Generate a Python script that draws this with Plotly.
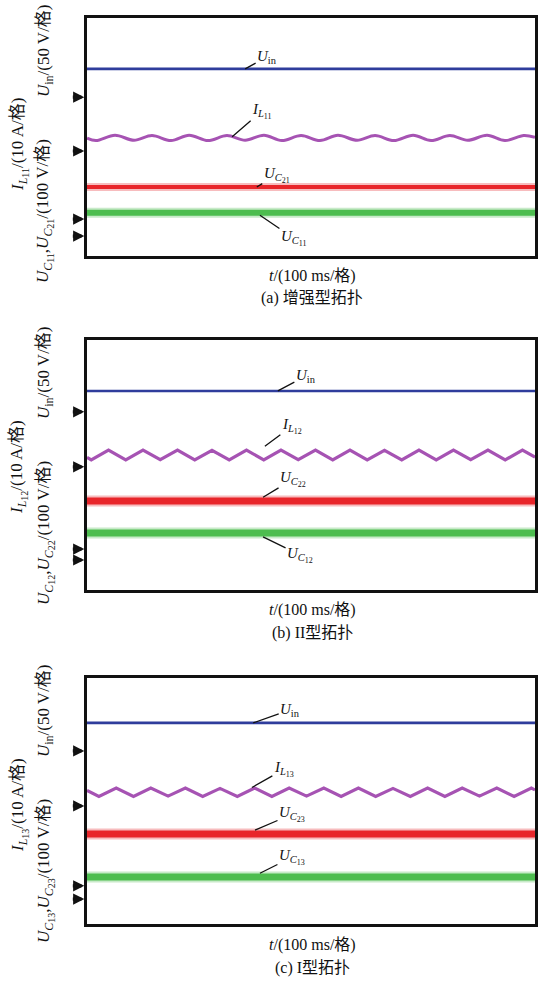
import plotly.graph_objects as go

# ---------------- data (vertical unit: screen divisions, horizontal: time divisions of 100 ms) -------------
t_flat = [0, 10]

# panel (a) 增强型拓扑
uin_a = 6.29
uc2_a = 2.32
uc1_a = 1.45
t_il_a = [0.0, 0.20, 0.625, 1.05, 1.45, 1.875, 2.28, 2.70, 3.125, 3.53, 3.95, 4.35, 4.78,
          5.20, 5.60, 6.03, 6.43, 6.85, 7.28, 7.68, 8.10, 8.50, 8.93, 9.33, 9.75, 10.0]
il_a = [3.96, 3.88, 4.06, 3.89, 4.05, 3.88, 4.06, 3.88, 4.05, 3.89, 4.06, 3.88, 4.05,
        3.88, 4.06, 3.89, 4.05, 3.88, 4.06, 3.88, 4.05, 3.89, 4.06, 3.88, 4.05, 3.99]
ref_a = [5.34, 3.53, 1.24, 0.67]

# panel (b) II型拓扑
uin_b = 6.37
uc2_b = 2.85
uc1_b = 1.82
t_il_b = [0.0, 0.095, 0.48, 0.865, 1.25, 1.635, 2.02, 2.405, 2.79, 3.175, 3.56, 3.945, 4.33, 4.715,
          5.10, 5.485, 5.87, 6.255, 6.64, 7.025, 7.41, 7.795, 8.18, 8.565, 8.95, 9.335, 9.72, 10.0]
il_b = [4.24, 4.16, 4.48, 4.16, 4.48, 4.17, 4.48, 4.16, 4.47, 4.16, 4.48, 4.16, 4.48, 4.17,
        4.48, 4.16, 4.48, 4.16, 4.47, 4.16, 4.48, 4.16, 4.48, 4.17, 4.48, 4.16, 4.48, 4.25]
ref_b = [5.70, 3.94, 1.31, 0.96]

# panel (c) I型拓扑
uin_c = 6.54
uc2_c = 2.93
uc1_c = 1.53
t_il_c = [0.0, 0.266, 0.652, 1.038, 1.424, 1.810, 2.196, 2.583, 2.969, 3.355, 3.741, 4.127, 4.513, 4.900,
          5.286, 5.672, 6.058, 6.444, 6.830, 7.217, 7.603, 7.989, 8.375, 8.761, 9.147, 9.533, 9.920, 10.0]
il_c = [4.34, 4.15, 4.42, 4.15, 4.42, 4.16, 4.42, 4.15, 4.41, 4.15, 4.42, 4.15, 4.42, 4.16,
        4.42, 4.15, 4.42, 4.15, 4.41, 4.15, 4.42, 4.15, 4.42, 4.16, 4.42, 4.15, 4.42, 4.36]
ref_c = [5.63, 3.84, 1.24, 0.81]

captions = ["(a) 增强型拓扑", "(b) II型拓扑", "(c) I型拓扑"]
subs = ["11", "12", "13"]
subs2 = ["21", "22", "23"]
x_label = "<i>t</i>/(100 ms/格)"

# ---------------- layout geometry ----------------
W, H = 542, 992
x0px, x1px = 87, 535
panel_px = [(18, 256), (340, 590), (678, 924)]
cap_px = [(276, 298), (610, 633), (945, 968)]

BLUE = "#2f3d9c"
PURPLE = "#a653b3"
RED = "#e8252a"
GREEN = "#4dbd4f"
INK = "#111111"
SERIF = "Liberation Serif, Noto Sans CJK SC"


def nsub(letter, idx, size):
    return "<sub><i>%s</i><sub><span style='font-size:%dpx'>%s</span></sub></sub>" % (letter, size, idx)


fig = go.Figure()

panels = [
    dict(uin=uin_a, uc2=uc2_a, uc1=uc1_a, t=t_il_a, il=il_a, ref=ref_a, shape="spline",
         w=dict(uin=2.6, il=3.0, uc2=3.8, uc1=6.0)),
    dict(uin=uin_b, uc2=uc2_b, uc1=uc1_b, t=t_il_b, il=il_b, ref=ref_b, shape="linear",
         w=dict(uin=2.6, il=3.2, uc2=7.0, uc1=7.0)),
    dict(uin=uin_c, uc2=uc2_c, uc1=uc1_c, t=t_il_c, il=il_c, ref=ref_c, shape="linear",
         w=dict(uin=2.6, il=3.2, uc2=7.0, uc1=7.0)),
]

# leader annotations: (tip x, tip y offset from level, ax, ay) per label
leaders = [
    dict(uin=(3.53, 0.0, 22, -12), il=(3.24, 0.05, 30, -26), uc2=(3.79, 0.0, 20, -12), uc1=(3.86, -0.08, 34, 23)),
    dict(uin=(4.26, 0.0, 28, -15), il=(3.97, 0.22, 27, -20), uc2=(3.93, 0.12, 30, -18), uc1=(3.93, -0.12, 37, 18)),
    dict(uin=(3.71, 0.0, 37, -13), il=(3.68, 0.12, 32, -18), uc2=(3.75, 0.12, 37, -16), uc1=(3.86, 0.12, 32, -16)),
]

annotations = []
for i, p in enumerate(panels):
    k = "" if i == 0 else str(i + 1)
    xa, ya = "x" + k, "y" + k
    top, bot = panel_px[i]
    fig.update_layout(**{
        "xaxis" + k: dict(domain=[x0px / W, x1px / W], range=[0, 10], showticklabels=False,
                           ticks="", showgrid=False, zeroline=False, showline=True,
                           linecolor=INK, linewidth=2.5, mirror=True, anchor=ya),
        "yaxis" + k: dict(domain=[1 - bot / H, 1 - top / H], range=[0, 8], showticklabels=False,
                           ticks="", showgrid=False, zeroline=False, showline=True,
                           linecolor=INK, linewidth=2.5, mirror=True, anchor=xa),
    })
    # glow under heavy lines
    for lvl, col, wv in [(p["uc2"], RED, p["w"]["uc2"]), (p["uc1"], GREEN, p["w"]["uc1"])]:
        fig.add_trace(go.Scatter(x=t_flat, y=[lvl, lvl], mode="lines", xaxis=xa, yaxis=ya,
                                 line=dict(color=col, width=wv + 4), opacity=0.3,
                                 showlegend=False, hoverinfo="skip"))
    fig.add_trace(go.Scatter(x=t_flat, y=[p["uin"], p["uin"]], mode="lines", xaxis=xa, yaxis=ya,
                             line=dict(color=BLUE, width=p["w"]["uin"]), showlegend=False))
    fig.add_trace(go.Scatter(x=p["t"], y=p["il"], mode="lines", xaxis=xa, yaxis=ya,
                             line=dict(color=PURPLE, width=p["w"]["il"], shape=p["shape"], smoothing=1.0),
                             showlegend=False))
    fig.add_trace(go.Scatter(x=t_flat, y=[p["uc2"], p["uc2"]], mode="lines", xaxis=xa, yaxis=ya,
                             line=dict(color=RED, width=p["w"]["uc2"]), showlegend=False))
    fig.add_trace(go.Scatter(x=t_flat, y=[p["uc1"], p["uc1"]], mode="lines", xaxis=xa, yaxis=ya,
                             line=dict(color=GREEN, width=p["w"]["uc1"]), showlegend=False))

    s1, s2 = subs[i], subs2[i]
    lab = dict(
        uin="<i>U</i><sub>in</sub>",
        il="<i>I</i>" + nsub("L", s1, 8),
        uc2="<i>U</i>" + nsub("C", s2, 8),
        uc1="<i>U</i>" + nsub("C", s1, 8),
    )
    lv = dict(uin=p["uin"], il=max(p["il"]) - 0.1, uc2=p["uc2"], uc1=p["uc1"])
    for key in ["uin", "il", "uc2", "uc1"]:
        tx, dy, ax, ay = leaders[i][key]
        annotations.append(dict(x=tx, y=lv[key] + dy, xref=xa, yref=ya, text=lab[key],
                                showarrow=True, arrowhead=0, arrowwidth=1.3, arrowcolor=INK,
                                ax=ax, ay=ay, font=dict(family=SERIF, size=15, color=INK)))
    # ground reference arrows
    for r in p["ref"]:
        annotations.append(dict(x=-0.006, y=r, xref=xa + " domain", yref=ya, text="",
                                showarrow=True, arrowhead=2, arrowsize=0.7, arrowwidth=3.2,
                                arrowcolor=INK, ax=-13, ay=0))
    # left-hand channel labels (rotated)
    common = dict(xref="paper", yref="paper", textangle=-90, showarrow=False,
                  xanchor="center", yanchor="middle", font=dict(family=SERIF, size=17, color=INK))
    annotations.append(dict(x=45 / W, y=1 - (top + 33) / H,
                            text="<i>U</i><sub>in</sub>/(50 V/格)", **common))
    annotations.append(dict(x=19 / W, y=1 - (top + 127) / H,
                            text="<i>I</i>" + nsub("L", s1, 10) + "/(10 A/格)", **common))
    annotations.append(dict(x=45 / W, y=1 - (top + 193) / H,
                            text="<i>U</i>" + nsub("C", s1, 10) + ",<i>U</i>" + nsub("C", s2, 10) + "/(100 V/格)",
                            **common))
    # x label and caption
    cap_common = dict(xref="paper", yref="paper", showarrow=False, xanchor="center", yanchor="middle",
                      font=dict(family=SERIF, size=16, color=INK))
    annotations.append(dict(x=312 / W, y=1 - cap_px[i][0] / H, text=x_label, **cap_common))
    annotations.append(dict(x=312 / W, y=1 - cap_px[i][1] / H, text=captions[i], **cap_common))

fig.update_layout(width=W, height=H, margin=dict(l=0, r=0, t=0, b=0),
                  paper_bgcolor="white", plot_bgcolor="white", annotations=annotations,
                  showlegend=False)

fig.write_html("out.html")
